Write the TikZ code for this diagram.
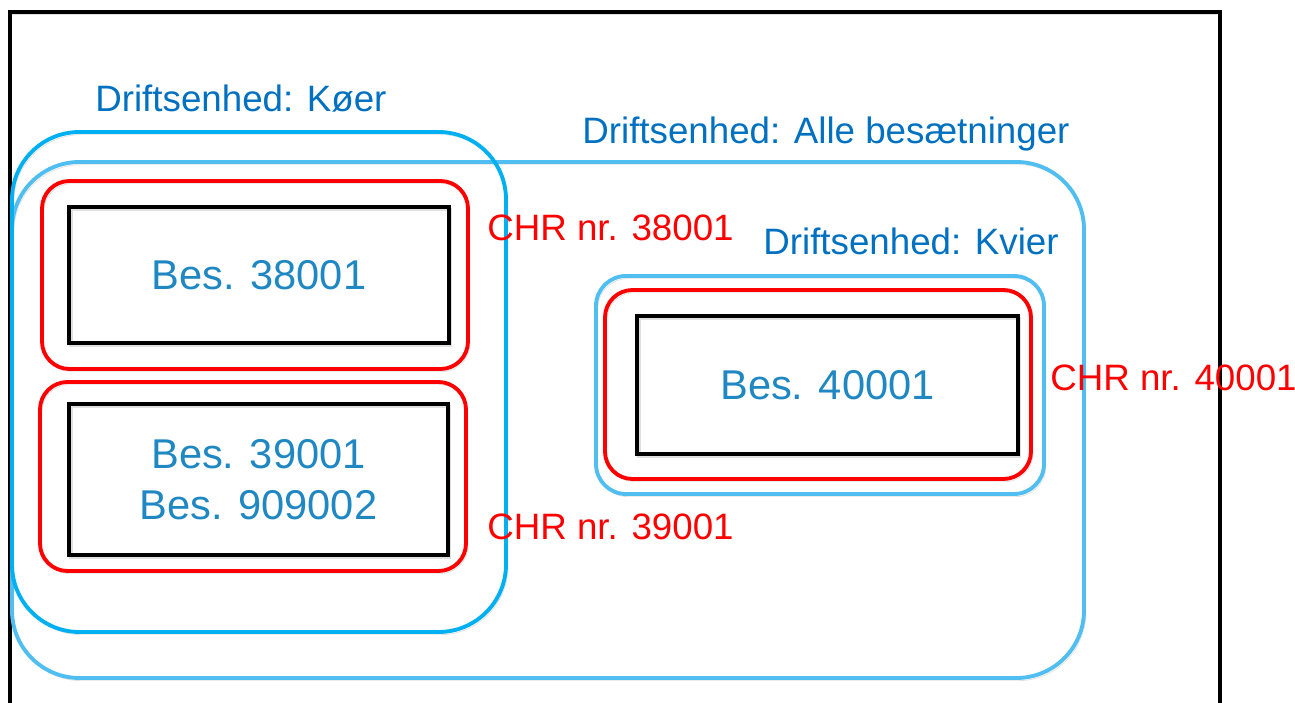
\documentclass[tikz,border=0pt]{standalone}
\usepackage{fontspec}
\setmainfont{Liberation Sans}
\usetikzlibrary{positioning}
\definecolor{unitblue}{RGB}{0,112,192}
\definecolor{ringblue}{RGB}{0,176,240}
\definecolor{ringlight}{RGB}{80,190,240}
\definecolor{besblue}{RGB}{31,136,194}
\definecolor{chrred}{RGB}{255,0,0}

\begin{document}
\begin{tikzpicture}[x=0.02cm,y=-0.02cm]
\tikzstyle{every node}+=[inner sep=0pt]
\tikzstyle{shade line}=[preaction={draw=black!12, transform canvas={xshift=1pt,yshift=-1.5pt}}]
\tikzstyle{besbox}=[draw=black, line width=2pt, shade line, text=besblue, align=center, font=\fontsize{23.7}{29}\selectfont]
\tikzstyle{chrring}=[draw=chrred, line width=2.2pt, rounded corners=0.55cm, shade line]
\tikzstyle{unitlabel}=[anchor=west, text=unitblue, font=\fontsize{20.9}{25}\selectfont]
\tikzstyle{chrlabel}=[anchor=west, text=chrred, font=\fontsize{20.9}{25}\selectfont]
\useasboundingbox (0,0) rectangle (1295,703);
\draw [black, line width=2pt, shade line] (10,12) rectangle (1220,740);
\draw [ringlight, line width=2.2pt, rounded corners=1.35cm, shade line] (12,162) rectangle (1084,678);
\draw [ringblue, line width=2.2pt, rounded corners=1.35cm, shade line] (12,132) rectangle (506,632);
\draw [ringlight, line width=2.2pt, rounded corners=0.6cm, shade line] (596,276) rectangle (1044,494);
\draw [chrring] (42,181) rectangle (468,369);
\draw [chrring] (40,382) rectangle (466,571);
\draw [chrring] (605,290) rectangle (1031,479);
\node [besbox, minimum width=7.6cm, minimum height=2.72cm] (bes38) at (259,275) {Bes. 38001};
\node [besbox, minimum width=7.58cm, minimum height=3.02cm] (bes39) at (258.5,479.5) {Bes. 39001\\Bes. 909002};
\node [besbox, minimum width=7.62cm, minimum height=2.76cm] (bes40) at (827.5,385) {Bes. 40001};
\node [unitlabel] (koer) at (95,99) {Driftsenhed: Køer};
\node [unitlabel] (alle) at (582,134) {Driftsenhed: Alle besætninger};
\node [unitlabel] (kvier) at (763,241) {Driftsenhed: Kvier};
\node [chrlabel] (chr38) at (487,228) {CHR nr. 38001};
\node [chrlabel] (chr39) at (487,527) {CHR nr. 39001};
\node [chrlabel] (chr40) at (1050,378) {CHR nr. 40001};
\end{tikzpicture}
\end{document}
